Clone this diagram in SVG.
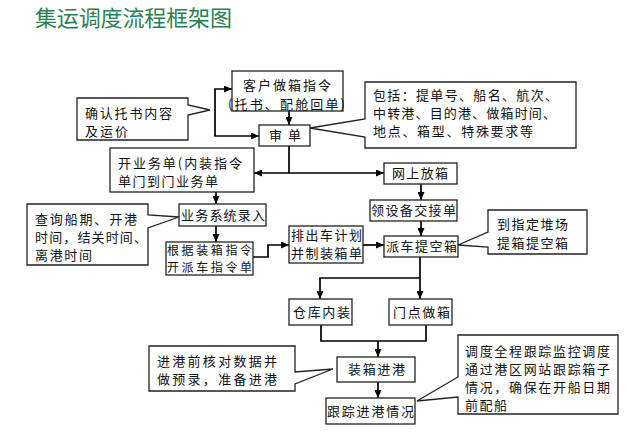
<svg xmlns="http://www.w3.org/2000/svg" width="627" height="435" viewBox="0 0 627 435">
<defs>
<marker id="arr" markerUnits="userSpaceOnUse" markerWidth="8" markerHeight="7" refX="8" refY="3.5" orient="auto">
<path d="M0,0 L8,3.5 L0,7 z" fill="#000"/>
</marker>
<style>
.box{fill:#fff;stroke:#222;stroke-width:1.3}
.call{fill:#fff;stroke:#222;stroke-width:1.3;stroke-linejoin:miter}
.conn{fill:none;stroke:#000;stroke-width:1.7}
.arrow{marker-end:url(#arr)}
text{font-family:"Noto Sans CJK SC","Noto Sans",sans-serif;font-size:13px;fill:#111}
.title{font-size:22px;fill:#2a8050}
.sm{font-size:12px}
</style>
</defs>
<rect width="627" height="435" fill="#fff"/>
<text class="title" x="35" y="26" textLength="197" lengthAdjust="spacing">集运调度流程框架图</text>

<g id="connectors">
<path class="conn arrow" d="M215,112 V89 H232"/>
<path class="conn arrow" d="M215,112 V136 H259"/>
<path class="conn arrow" d="M289,111 V125"/>
<path class="conn" d="M289,146 V173"/>
<path class="conn arrow" d="M289,173 H254"/>
<path class="conn arrow" d="M289,173 H384"/>
<path class="conn arrow" d="M216,192 V204"/>
<path class="conn arrow" d="M216,226 V242"/>
<path class="conn arrow" d="M253,257 H268 V245 H289"/>
<path class="conn arrow" d="M363,245 H384"/>
<path class="conn arrow" d="M421,184 V200"/>
<path class="conn arrow" d="M421,221 V236"/>
<path class="conn arrow" d="M420,257 V299"/>
<path class="conn arrow" d="M420,278 H320 V299"/>
<path class="conn" d="M321,325 V341 H426 V325"/>
<path class="conn arrow" d="M378,341 V357"/>
<path class="conn arrow" d="M378,382 V398"/>
</g>

<g id="node-kehu">
<rect class="box" x="232" y="71" width="111" height="40"/>
<text x="243" y="90" textLength="88" lengthAdjust="spacing">客户做箱指令</text>
<text x="228" y="109" textLength="117" lengthAdjust="spacing">(托书、配舱回单)</text>
</g>

<g id="note-queren">
<path class="call" d="M77,98 H188 V105 L210,110 L188,115 V140 H77 Z"/>
<text x="85" y="118" textLength="87" lengthAdjust="spacing">确认托书内容</text>
<text x="85" y="136" textLength="43" lengthAdjust="spacing">及运价</text>
</g>

<g id="node-shendan">
<rect class="box" x="259" y="125" width="51" height="21"/>
<text x="269" y="140" textLength="32" lengthAdjust="spacing">审单</text>
</g>

<g id="note-baokuo">
<path class="call" d="M365,82 H576 V148 H365 V137 L310,128 L365,119 Z"/>
<text x="373" y="100" textLength="185" lengthAdjust="spacing">包括：提单号、船名、航次、</text>
<text x="373" y="118" textLength="183" lengthAdjust="spacing">中转港、目的港、做箱时间、</text>
<text x="373" y="136" textLength="160" lengthAdjust="spacing">地点、箱型、特殊要求等</text>
</g>

<g id="node-kaiyewu">
<rect class="box" x="110" y="148" width="144" height="44"/>
<text x="118" y="168" textLength="124" lengthAdjust="spacing">开业务单(内装指令</text>
<text x="118" y="186" textLength="100" lengthAdjust="spacing">单门到门业务单</text>
</g>

<g id="node-wangshang">
<rect class="box" x="384" y="163" width="73" height="21"/>
<text x="392" y="178" textLength="56" lengthAdjust="spacing">网上放箱</text>
</g>

<g id="node-yewuxitong">
<rect class="box" x="179" y="204" width="87" height="22"/>
<text x="181" y="220" textLength="84" lengthAdjust="spacing">业务系统录入</text>
</g>

<g id="note-chaxun">
<path class="call" d="M27,204 H148 V215 L179,217 L148,228 V265 H27 Z"/>
<text x="35" y="224" textLength="102" lengthAdjust="spacing">查询船期、开港</text>
<text x="35" y="242" textLength="112" lengthAdjust="spacing">时间，结关时间、</text>
<text x="35" y="260" textLength="57" lengthAdjust="spacing">离港时间</text>
</g>

<g id="node-lingshebei">
<rect class="box" x="370" y="200" width="87" height="21"/>
<text x="371" y="215" textLength="85" lengthAdjust="spacing">领设备交接单</text>
</g>

<g id="node-genju">
<rect class="box" x="166" y="242" width="87" height="33"/>
<text class="sm" x="167" y="255" textLength="85" lengthAdjust="spacing">根据装箱指令</text>
<text class="sm" x="167" y="272" textLength="85" lengthAdjust="spacing">开派车指令单</text>
</g>

<g id="node-paichu">
<rect class="box" x="289" y="226" width="74" height="37"/>
<text x="291" y="240" textLength="71" lengthAdjust="spacing">排出车计划</text>
<text x="291" y="258" textLength="71" lengthAdjust="spacing">并制装箱单</text>
</g>

<g id="node-paiche">
<rect class="box" x="384" y="236" width="74" height="21"/>
<text x="386" y="251" textLength="71" lengthAdjust="spacing">派车提空箱</text>
</g>

<g id="note-daozhiding">
<path class="call" d="M488,210 H587 V254 H488 V247 L458,245 L488,232 Z"/>
<text x="497" y="229" textLength="71" lengthAdjust="spacing">到指定堆场</text>
<text x="497" y="248" textLength="71" lengthAdjust="spacing">提箱提空箱</text>
</g>

<g id="node-cangku">
<rect class="box" x="289" y="299" width="63" height="26"/>
<text x="293" y="317" textLength="57" lengthAdjust="spacing">仓库内装</text>
</g>

<g id="node-mendian">
<rect class="box" x="389" y="299" width="63" height="26"/>
<text x="393" y="317" textLength="57" lengthAdjust="spacing">门点做箱</text>
</g>

<g id="node-zhuangxiang">
<rect class="box" x="337" y="357" width="78" height="25"/>
<text x="348" y="374" textLength="57" lengthAdjust="spacing">装箱进港</text>
</g>

<g id="note-jingang">
<path class="call" d="M149,346 H295 V372 L333,369 L295,384 V391 H149 Z"/>
<text x="157" y="366" textLength="120" lengthAdjust="spacing">进港前核对数据并</text>
<text x="157" y="384" textLength="120" lengthAdjust="spacing">做预录，准备进港</text>
</g>

<g id="node-genzong">
<rect class="box" x="326" y="398" width="89" height="26"/>
<text x="327" y="416" textLength="87" lengthAdjust="spacing">跟踪进港情况</text>
</g>

<g id="note-diaodu">
<path class="call" d="M458,335 H618 V414 H458 V397 L417,401 L458,377 Z"/>
<text x="465" y="356" textLength="145" lengthAdjust="spacing">调度全程跟踪监控调度</text>
<text x="465" y="374" textLength="145" lengthAdjust="spacing">通过港区网站跟踪箱子</text>
<text x="465" y="392" textLength="145" lengthAdjust="spacing">情况，确保在开船日期</text>
<text x="465" y="410" textLength="42" lengthAdjust="spacing">前配船</text>
</g>
</svg>
